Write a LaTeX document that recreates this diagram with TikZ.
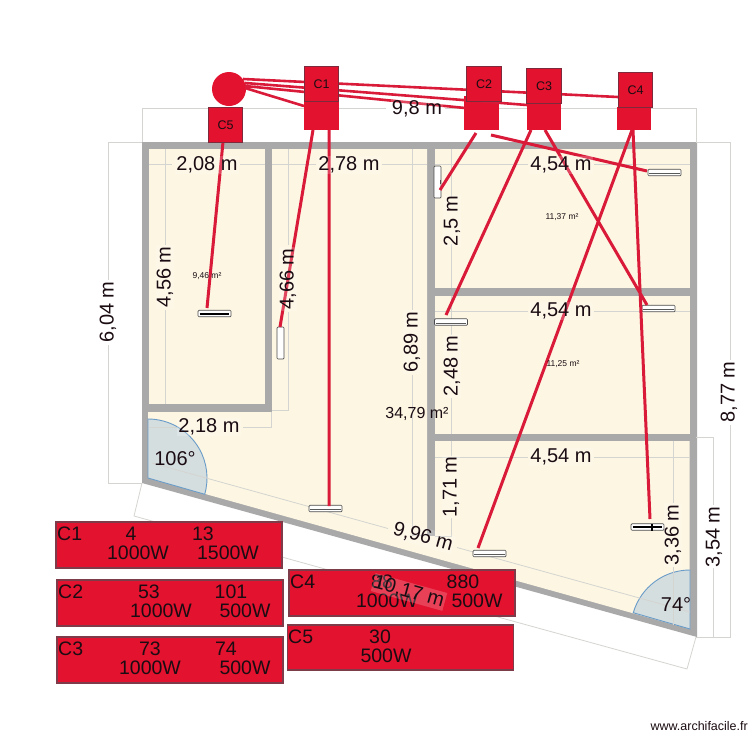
\documentclass[tikz,border=0pt]{standalone}
\usepackage{fontspec}
\setmainfont{Liberation Sans}
\definecolor{wall}{HTML}{A9A9A9}
\definecolor{room}{HTML}{FDF6E3}
\definecolor{dimc}{HTML}{D4D4D0}
\definecolor{rd}{HTML}{E3122E}
\definecolor{rdline}{HTML}{D91A38}
\definecolor{rdedge}{HTML}{7D2A3C}
\definecolor{wedge}{HTML}{D5DEDF}
\definecolor{wedgeline}{HTML}{6A9CC8}
\definecolor{txt}{HTML}{1A0C12}
\tikzset{
 dimline/.style={draw=dimc,line width=0.8pt},
 dimlabel/.style={font=\fontsize{20}{22}\selectfont,text=txt,fill=white,fill opacity=0.2,text opacity=1,inner sep=1pt},
 arealabel/.style={font=\fontsize{8.5}{10}\selectfont,text=txt,inner sep=0pt},
 redline/.style={draw=rdline,line width=3pt},
 topbox/.style={draw=rdedge,line width=0.9pt,fill=rd,minimum width=34.5pt,minimum height=34.5pt,inner sep=0pt,font=\fontsize{12.5}{14}\selectfont,text=txt},
 lowbox/.style={fill=rd,inner sep=0pt},
 listbox/.style={draw=rdedge!80!gray,line width=1.4pt,fill=rd},
 listtext/.style={font=\fontsize{19.5}{22}\selectfont,text=txt,inner sep=0pt},
 fixture/.style={draw=black!70,line width=0.7pt,fill=white,rounded corners=1pt,inner sep=0pt},
 wedgeshape/.style={fill=wedge,draw=wedgeline,line width=0.9pt},
}
\begin{document}
\begin{tikzpicture}[x=1pt,y=-1pt]
\useasboundingbox (0,0) rectangle (750,750);
% walls and rooms
\fill[wall] (142,142) -- (697,142) -- (697,637) -- (142,483) -- cycle;
\fill[room] (149,149) rectangle (265,404);
\fill[room] (272,149) -- (427,149) -- (427,536) -- (435,536) -- (435,441) -- (689.5,441) -- (689.5,629) -- (148,478) -- (148,412) -- (272,412) -- cycle;
\fill[room] (435,149) rectangle (689.5,288);
\fill[room] (435,296) rectangle (689.5,434);
% angle wedges
\path[wedgeshape] (148,478) -- (148,419) arc[start angle=90,end angle=-16,radius=59pt] -- cycle;
\path[wedgeshape] (690,629) -- (690,570) arc[start angle=90,end angle=164,radius=59pt] -- cycle;
% dimension lines
\draw[dimline] (142,142) -- (142,108) -- (386,108) (445,108) -- (696,108) -- (696,142);
\draw[dimline] (696,142) -- (730,142) -- (730,360) (730,425) -- (730,637) -- (696,637);
\draw[dimline] (696,437) -- (713,437) -- (713,505) (713,568) -- (713,637);
\draw[dimline] (142,142) -- (108,142) -- (108,280) (108,345) -- (108,483) -- (142,483);
\draw[dimline] (149,164) -- (172,164) (240,164) -- (265,164);
\draw[dimline] (272,164) -- (316,164) (382,164) -- (427,164);
\draw[dimline] (435,164) -- (528,164) (594,164) -- (690,164);
\draw[dimline] (435,311) -- (528,311) (594,311) -- (690,311);
\draw[dimline] (435,457) -- (528,457) (594,457) -- (690,457);
\draw[dimline] (165,149) -- (165,245) (165,310) -- (165,404);
\draw[dimline] (288,149) -- (288,245) (288,312) -- (288,410) -- (272,410);
\draw[dimline] (412,149) -- (412,310) (412,375) -- (412,535) -- (427,535);
\draw[dimline] (451,149) -- (451,198) (451,244) -- (451,288);
\draw[dimline] (451,296) -- (451,335) (451,398) -- (451,434);
\draw[dimline] (451,441) -- (451,456) (451,518) -- (451,536) -- (435,536);
\draw[dimline] (673,441) -- (673,503) (673,567) -- (673,625);
\draw[dimline] (149,427) -- (177,427) (243,427) -- (271,427) -- (271,412);
\draw[dimline] (152,463) -- (388,528.5) (457,547.5) -- (690,612);
\draw[dimline] (142,483) -- (134,516) -- (372,582) (447,603) -- (687,669) -- (696,637);
% ceiling fixtures
\node[fixture,minimum width=33pt,minimum height=6.5pt] (f1) at (214.5,313.5) {};
\node[fixture,minimum width=7pt,minimum height=32pt] (f2) at (280.5,343) {};
\node[fixture,minimum width=7pt,minimum height=32pt] (f3) at (437.5,182) {};
\node[fixture,minimum width=33pt,minimum height=6.5pt] (f4) at (664.5,172.5) {};
\node[fixture,minimum width=33pt,minimum height=6.5pt] (f5) at (451,322) {};
\node[fixture,minimum width=33pt,minimum height=6.5pt] (f6) at (658.5,308.5) {};
\node[fixture,minimum width=33pt,minimum height=6.5pt] (f7) at (325.5,508.5) {};
\node[fixture,minimum width=33pt,minimum height=6.5pt] (f8) at (489.5,553.5) {};
\node[fixture,minimum width=33pt,minimum height=6.5pt] (f9) at (647.5,527) {};
\draw[black,line width=1.8pt] ([xshift=2pt,yshift=-0.5pt]f1.west) -- ([xshift=-2pt,yshift=-0.5pt]f1.east);
\draw[black,line width=1.8pt] ([xshift=2pt]f9.west) -- ([xshift=-2pt]f9.east);
\foreach \f in {f4,f5,f6,f7,f8}{\draw[black!65,line width=0.6pt] ([xshift=1.5pt,yshift=-0.8pt]\f.west) -- ([xshift=-1.5pt,yshift=-0.8pt]\f.east);}
\draw[black!70,line width=0.9pt] ([xshift=-0.5pt,yshift=2pt]f3.east) -- ([xshift=-0.5pt,yshift=-2pt]f3.east);
% panels
\node[circle,fill=rd,minimum size=34pt,inner sep=0pt] (pan) at (229,89) {};
\node[lowbox,minimum width=35pt,minimum height=29pt] (l1) at (321.5,115.5) {};
\node[lowbox,minimum width=35pt,minimum height=34pt] (l2) at (481.5,113) {};
\node[lowbox,minimum width=34pt,minimum height=27pt] (l3) at (544,116.5) {};
\node[lowbox,minimum width=34pt,minimum height=23pt] (l4) at (634,118.5) {};
% end points of the wiring
\coordinate (a1) at (243,79); \coordinate (a2) at (245,83); \coordinate (a3) at (245,86); \coordinate (a4) at (245,88);
\coordinate (b1) at (618,97); \coordinate (b2) at (527,105); \coordinate (b3) at (465,108); \coordinate (b4) at (304,106);
\coordinate (c5s) at (223,142); \coordinate (c5e) at (207,308);
\coordinate (l1a) at (313,130); \coordinate (f2e) at (280,327);
\coordinate (l1b) at (329,130); \coordinate (f7e) at (329,506);
\coordinate (l2a) at (476,133); \coordinate (f3e) at (440,190);
\coordinate (l2b) at (491,135); \coordinate (f4e) at (647,171);
\coordinate (l3a) at (531,130); \coordinate (f5e) at (446,315);
\coordinate (l3b) at (545,130); \coordinate (f6e) at (647,305);
\coordinate (l4a) at (632,130); \coordinate (f8e) at (478,548);
\coordinate (l4b) at (633,130); \coordinate (f9e) at (650,519);
\draw[redline,line width=2.6pt] (a1) -- (b1) (a2) -- (b2) (a3) -- (b3) (a4) -- (b4);
\draw[redline] (c5s) -- (c5e) (l1a) -- (f2e) (l1b) -- (f7e) (l2a) -- (f3e) (l2b) -- (f4e) (l3a) -- (f5e) (l3b) -- (f6e) (l4a) -- (f8e) (l4b) -- (f9e);
\draw[black,line width=1.4pt] (652,524) -- (652,531);
\node[topbox] (c1) at (321.5,84) {C1};
\node[topbox] (c2) at (484,84) {C2};
\node[topbox] (c3) at (544,86) {C3};
\node[topbox] (c4) at (635.5,90) {C4};
\node[topbox] (c5) at (225.5,125) {C5};
% list boxes
\node[listbox,minimum width=226pt,minimum height=46pt,inner sep=0pt] (t1) at (169,545) {};
\node[listbox,minimum width=226pt,minimum height=46pt,inner sep=0pt] (t2) at (170,603) {};
\node[listbox,minimum width=226pt,minimum height=46pt,inner sep=0pt] (t3) at (170,660) {};
\node[listbox,minimum width=226pt,minimum height=46pt,inner sep=0pt] (t4) at (402,593) {};
\node[listbox,minimum width=226pt,minimum height=45pt,inner sep=0pt] (t5) at (400.5,647.5) {};
\node[listtext,anchor=west] (t1a) at (57,534) {C1};
\node[listtext] (t1b) at (131,534) {4};
\node[listtext] (t1c) at (203,534) {13};
\node[listtext] (t1d) at (138,553) {1000W};
\node[listtext] (t1e) at (228,553) {1500W};
\node[listtext,anchor=west] (t2a) at (58,592) {C2};
\node[listtext] (t2b) at (149,592) {53};
\node[listtext] (t2c) at (231,592) {101};
\node[listtext] (t2d) at (161,611) {1000W};
\node[listtext] (t2e) at (245,611) {500W};
\node[listtext,anchor=west] (t3a) at (58,649) {C3};
\node[listtext] (t3b) at (150,649) {73};
\node[listtext] (t3c) at (226,649) {74};
\node[listtext] (t3d) at (150,668) {1000W};
\node[listtext] (t3e) at (245,668) {500W};
\node[listtext,anchor=west] (t4a) at (290,582) {C4};
\node[listtext] (t4b) at (382,582) {88};
\node[listtext] (t4c) at (463,582) {880};
\node[listtext] (t4d) at (387,601) {1000W};
\node[listtext] (t4e) at (477,601) {500W};
\node[listtext,anchor=west] (t5a) at (288,637) {C5};
\node[listtext] (t5b) at (380,637) {30};
\node[listtext] (t5c) at (386,656) {500W};
% dimension labels
\node[dimlabel] (d1) at (417,109) {9,8 m};
\node[dimlabel] (d2) at (207,165) {2,08 m};
\node[dimlabel] (d3) at (349,165) {2,78 m};
\node[dimlabel] (d4) at (561,165) {4,54 m};
\node[dimlabel] (d5) at (561,311) {4,54 m};
\node[dimlabel] (d6) at (561,457) {4,54 m};
\node[dimlabel,rotate=90] (d7) at (165,277) {4,56 m};
\node[dimlabel,rotate=90] (d8) at (288,279) {4,66 m};
\node[dimlabel,rotate=90] (d9) at (412,342) {6,89 m};
\node[dimlabel,rotate=90] (d10) at (452,221) {2,5 m};
\node[dimlabel,rotate=90] (d11) at (452,366) {2,48 m};
\node[dimlabel,rotate=90] (d12) at (451,487) {1,71 m};
\node[dimlabel,rotate=90] (d13) at (673,535) {3,36 m};
\node[dimlabel,rotate=90] (d14) at (714,537) {3,54 m};
\node[dimlabel,rotate=90] (d15) at (729,392) {8,77 m};
\node[dimlabel,rotate=90] (d16) at (108,312) {6,04 m};
\node[dimlabel] (d17) at (209,427) {2,18 m};
\node[dimlabel,rotate=-15.5] (d18) at (423,537) {9,96 m};
\node[dimlabel,rotate=-15.5] (d19) at (409,592) {10,17 m};
\node[dimlabel,fill opacity=0] (d20) at (175,459) {106°};
\node[dimlabel,fill opacity=0] (d21) at (676,605) {74°};
\node[arealabel] (r1) at (207,276) {9,46 m²};
\node[arealabel] (r2) at (562,217) {11,37 m²};
\node[arealabel] (r3) at (563,364) {11,25 m²};
\node[arealabel,font=\fontsize{16}{18}\selectfont] (r4) at (417,414) {34,79 m²};
\node[font=\fontsize{12.5}{14}\selectfont,text=txt,anchor=east,inner sep=0pt] (site) at (748,726) {www.archifacile.fr};
\end{tikzpicture}
\end{document}
